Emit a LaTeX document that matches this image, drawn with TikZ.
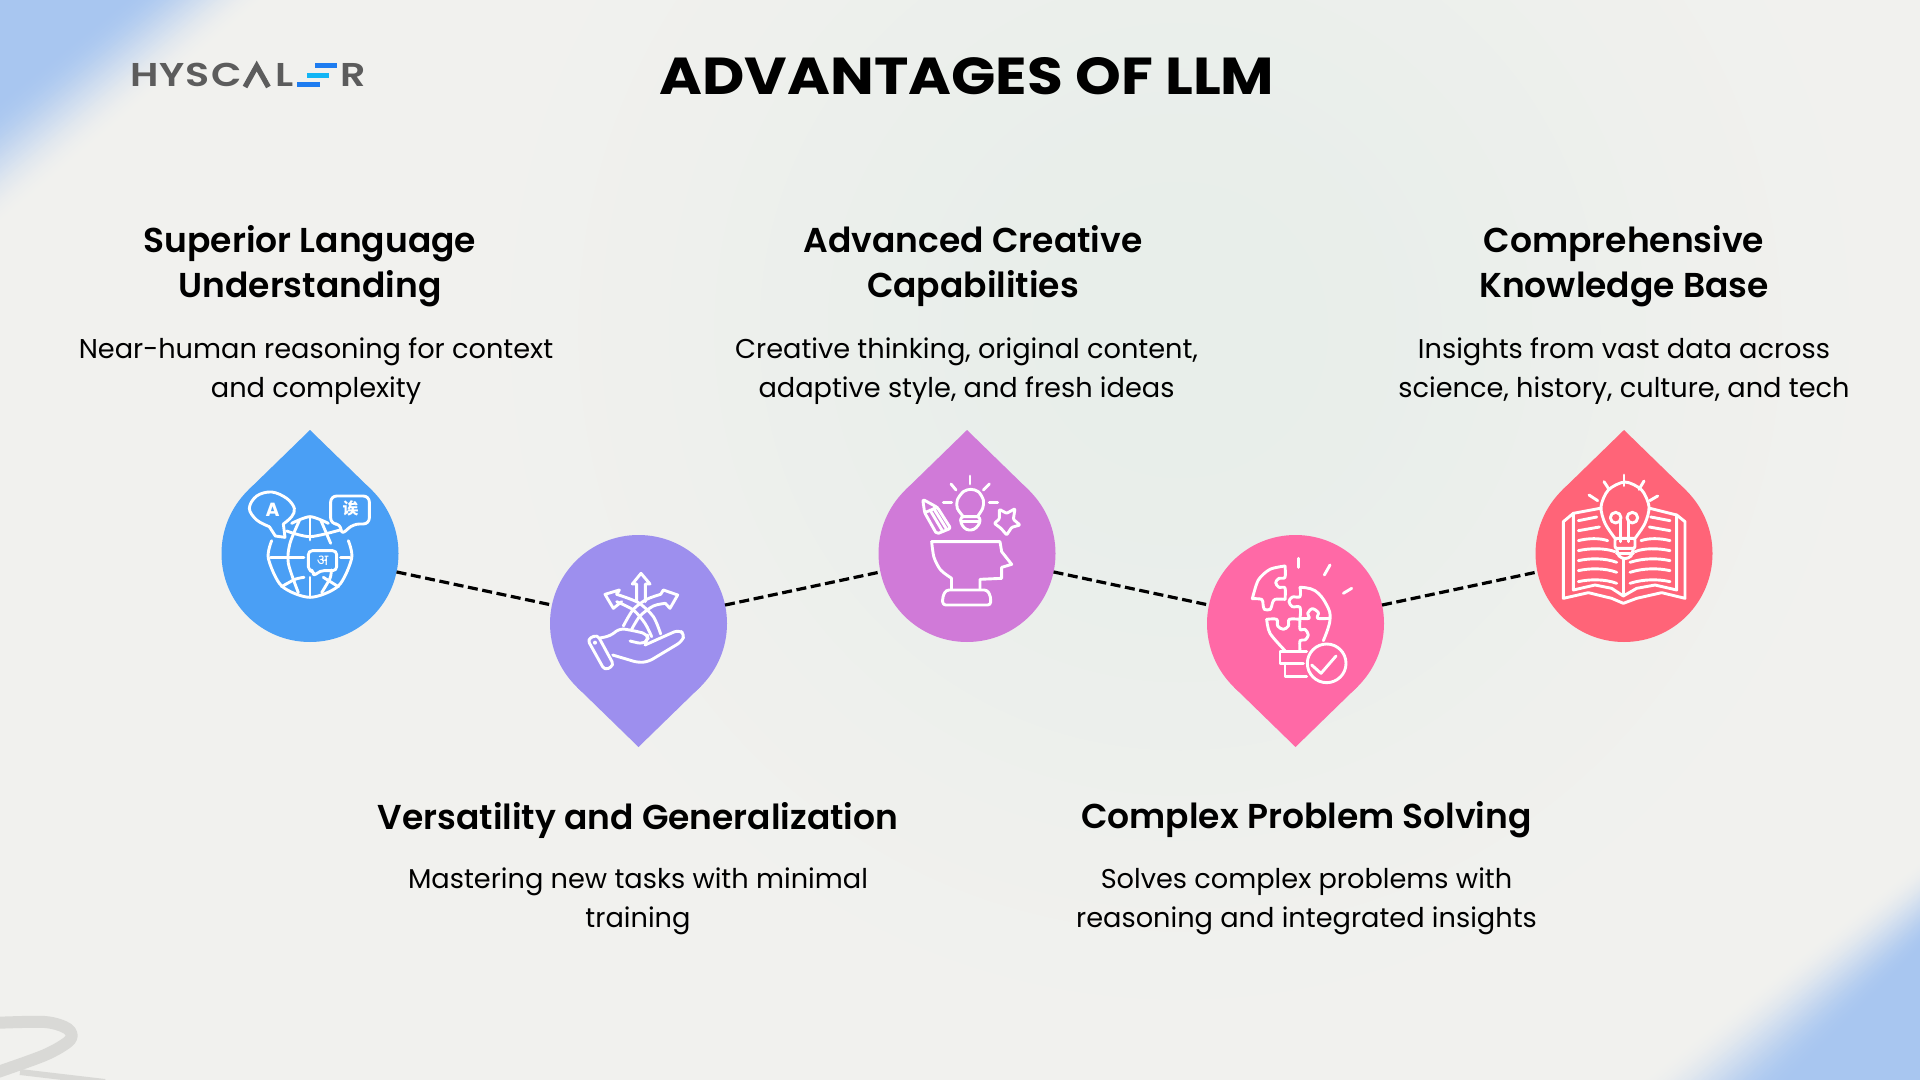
\documentclass[tikz,border=0pt]{standalone}
\usepackage{fontspec}
\setmainfont{Poppins}[BoldFont=Poppins Bold]
\newfontfamily\semib{Poppins SemiBold}
\newfontfamily\logof{Poppins SemiBold}[FakeStretch=1.2]
\newfontfamily\titlef{Poppins Bold}[FakeStretch=1.12]
\newfontfamily\devfont[Script=Devanagari]{Noto Sans}
\newfontfamily\cjkfont{Noto Sans CJK SC}
\definecolor{bgbase}{HTML}{F1F1EE}
\definecolor{bgmid}{HTML}{E8EEEA}
\definecolor{cornerblue}{HTML}{A8C6F0}
\definecolor{dropA}{HTML}{4A9FF5}
\definecolor{dropB}{HTML}{9D8FEE}
\definecolor{dropC}{HTML}{D07AD8}
\definecolor{dropD}{HTML}{FF69A6}
\definecolor{dropE}{HTML}{FF6478}
\definecolor{logogrey}{HTML}{5C5C5C}
\definecolor{logoblue}{HTML}{1E7CF0}
\definecolor{logocyan}{HTML}{12B5F5}
\tikzset{
  x=0.5pt,y=-0.5pt,
  dropnode/.style={circle,inner sep=0pt,outer sep=0pt,minimum size=88.5pt,fill=#1},
  conn/.style={draw=black,line width=1.6pt,dash pattern=on 5pt off 2.3pt},
  ic/.style={draw=white,line width=1.45pt,line cap=round,line join=round},
  heading/.style={font=\semib\fontsize{17.25}{22.8}\selectfont,align=center,text=black,inner sep=0pt},
  bodytext/.style={font=\fontsize{13.6}{19.6}\selectfont,align=center,text=black,inner sep=0pt},
  logoletter/.style={font=\logof\fontsize{16.5}{18}\selectfont,text=logogrey,inner sep=0pt,anchor=base},
}
\begin{document}
\begin{tikzpicture}
\useasboundingbox (0,0) rectangle (1920,1080);
\clip (0,0) rectangle (1920,1080);
% background
\fill[bgbase] (0,0) rectangle (1920,1080);
\foreach \i in {0,...,30}{
  \pgfmathsetmacro{\t}{\i/30}
  \pgfmathsetmacro{\p}{100*\t*\t*(3-2*\t)}
  \pgfmathsetmacro{\rr}{760-680*\t}
  \fill[bgmid!\p!bgbase] (1180,330) circle (\rr);
}
\foreach \i in {0,...,44}{
  \pgfmathsetmacro{\t}{\i/44}
  \pgfmathsetmacro{\p}{100*\t*\t*(3-2*\t)}
  \pgfmathsetmacro{\ax}{265-\t*(265-125)}
  \pgfmathsetmacro{\ay}{225-\t*(225-100)}
  \pgfmathsetmacro{\bx}{1640+\t*(1790-1640)}
  \pgfmathsetmacro{\by}{860+\t*(950-860)}
  \fill[cornerblue!\p!bgbase] (0,0) -- (\ax,0) -- (0,\ay) -- cycle;
  \fill[cornerblue!\p!bgbase] (1920,1080) -- (\bx,1080) -- (1920,\by) -- cycle;
}
% squiggle
\draw[draw=black!10!bgbase,line width=6pt,line cap=round,line join=round] plot[smooth] coordinates {(-8,1023) (45,1022) (68,1029) (70,1040) (45,1055) (-8,1074)};
\draw[draw=black!10!bgbase,line width=3pt] (20,1072) -- (105,1082);
% logo
\foreach \n/\l/\cx in {a/H/145,b/Y/172,c/S/198,d/C/227,e/L/285,f/R/353}
  \node[logoletter] (logo\n) at (\cx,86.7) {\l};
\draw[logogrey,line width=2.6pt,line join=miter] (245,87) -- (256.7,66) -- (268.4,87);
\fill[logoblue] (315,63) rectangle (337,68);
\fill[logocyan] (307,73) rectangle (329,78);
\fill[logoblue] (297,82.5) rectangle (320,87.5);
% title
\node[font=\titlef\fontsize{26}{30}\selectfont,text=black,inner sep=0pt] (title) at (967,75.7) {ADVANTAGES OF LLM};
% drops
\node[dropnode=dropA] (d1) at (310,553.5) {};
\node[dropnode=dropB] (d2) at (638.5,623.5) {};
\node[dropnode=dropC] (d3) at (967,553.5) {};
\node[dropnode=dropD] (d4) at (1295.5,623.5) {};
\node[dropnode=dropE] (d5) at (1624,553.5) {};
\coordinate (t1) at (310,430);
\coordinate (t2) at (638.5,747);
\coordinate (t3) at (967,430);
\coordinate (t4) at (1295.5,747);
\coordinate (t5) at (1624,430);
\fill[dropA] (d1.center) -- (d1.134.2) -- (t1) -- (d1.45.8) -- cycle;
\fill[dropB] (d2.center) -- (d2.-134.2) -- (t2) -- (d2.-45.8) -- cycle;
\fill[dropC] (d3.center) -- (d3.134.2) -- (t3) -- (d3.45.8) -- cycle;
\fill[dropD] (d4.center) -- (d4.-134.2) -- (t4) -- (d4.-45.8) -- cycle;
\fill[dropE] (d5.center) -- (d5.134.2) -- (t5) -- (d5.45.8) -- cycle;
% connectors
\draw[conn] (d1) -- (d2);
\draw[conn] (d2) -- (d3);
\draw[conn] (d3) -- (d4);
\draw[conn] (d4) -- (d5);
% text
\node[heading] (h1) at (310,266) {Superior Language\\Understanding};
\node[bodytext] (b1) at (316,371) {Near-human reasoning for context\\and complexity};
\node[heading] (h3) at (973,266) {Advanced Creative\\Capabilities};
\node[bodytext] (b3) at (966.5,371) {Creative thinking, original content,\\adaptive style, and fresh ideas};
\node[heading] (h5) at (1624,266) {Comprehensive\\Knowledge Base};
\node[bodytext] (b5) at (1624,371) {Insights from vast data across\\science, history, culture, and tech};
\node[heading] (h2) at (638,820) {Versatility and Generalization};
\node[bodytext] (b2) at (638,901) {Mastering new tasks with minimal\\training};
\node[heading] (h4) at (1306.5,820) {Complex Problem Solving};
\node[bodytext] (b4) at (1306.5,901) {Solves complex problems with\\reasoning and integrated insights};
% icon 1: globe
\begin{scope}[shift={(240,480)},scale=1/3]
\draw[ic] plot[smooth,tension=0.6] coordinates {(130,132) (155,110) (163,85) (140,55) (95,36) (50,48) (28,85) (50,120) (88,140)};
\draw[ic] (88,140) -- (106,168) -- (135,172) -- (130,132);
\draw[ic,rounded corners=3pt] (303,165) -- (303,132) -- (272,132) -- (272,48) -- (388,48) -- (388,132) -- (340,132) -- cycle;
\node[font=\bfseries\fontsize{9.5}{10}\selectfont,text=white,inner sep=0pt] (lA) at (98,88) {A};
\node[font=\cjkfont\bfseries\fontsize{8}{9}\selectfont,text=white,inner sep=0pt] (lB) at (332,86) {诶};
\draw[ic] plot[smooth] coordinates {(95,182) (85,235) (125,318) (210,352) (295,318) (335,235) (325,182)};
\draw[ic] plot[smooth] coordinates {(155,130) (210,110) (265,130)};
\draw[ic] plot[smooth] coordinates {(178,122) (150,190) (145,250) (175,338)};
\draw[ic] plot[smooth] coordinates {(243,122) (272,190)};
\draw[ic] plot[smooth] coordinates {(274,270) (270,295) (245,338)};
\draw[ic] (210,112) -- (210,180);
\draw[ic] (210,292) -- (210,350);
\draw[ic] plot[smooth] coordinates {(140,153) (210,170) (300,150)};
\draw[ic] (92,232) -- (192,232);
\draw[ic] (302,232) -- (330,232);
\draw[ic] plot[smooth] coordinates {(125,320) (165,298) (192,292)};
\draw[ic] plot[smooth] coordinates {(250,292) (295,320)};
\draw[ic,rounded corners=2pt] (220,290) -- (222,272) -- (205,272) -- (205,212) -- (290,212) -- (290,272) -- (240,272) -- cycle;
\node[font=\devfont\bfseries\fontsize{7.5}{8}\selectfont,text=white,inner sep=0pt] (lC) at (248,241) {अ};
\end{scope}
% icon 2: hand and arrows
\begin{scope}[shift={(570,560)},scale=1/3]
\draw[ic] (200,125) -- (200,72) -- (187,72) -- (213,40) -- (240,72) -- (226,72) -- (226,125);
\draw[ic] (155,125) -- (130,145) -- (105,103) -- (148,90) -- (140,103);
\draw[ic] (272,103) -- (280,90) -- (323,105) -- (300,145) -- (286,130);
\draw[ic] plot[smooth] coordinates {(140,103) (205,128) (250,170) (272,222)};
\draw[ic] plot[smooth] coordinates {(140,125) (190,150) (225,190) (245,230)};
\draw[ic] plot[smooth] coordinates {(272,103) (230,118) (190,148) (160,198)};
\draw[ic] plot[smooth] coordinates {(286,130) (250,138) (210,168) (185,208)};
\draw[ic,rounded corners=2pt] (52,238) -- (82,224) -- (132,316) -- (104,331) -- cycle;
\fill[white] (75,248) circle (6);
\draw[ic,rounded corners=2.5pt] (90,234) -- (120,228) -- (150,205) -- (190,212) -- (232,222) -- (235,240) -- (218,252) -- (180,243);
\draw[ic,rounded corners=2.5pt] (225,255) -- (325,210) -- (345,222) -- (335,245) -- (235,305) -- (205,308) -- (128,285);
\end{scope}
% icon 3: head
\begin{scope}[shift={(900,470)},scale=1/3]
\draw[ic] (210,18) -- (210,42);
\draw[ic] (153,42) -- (168,60);
\draw[ic] (268,42) -- (250,60);
\draw[ic] (130,98) -- (155,98);
\draw[ic] (268,98) -- (293,98);
\draw[ic] plot[smooth] coordinates {(190,140) (172,115) (172,90) (190,65) (212,58) (235,65) (250,90) (248,115) (232,140)};
\draw[ic,rounded corners=1.5pt] (182,140) -- (240,140) -- (240,160) -- (222,180) -- (198,180) -- (182,160) -- cycle;
\draw[ic] (185,155) -- (237,155);
\draw[ic,rounded corners=1pt] (68,88) -- (112,112) -- (152,175) -- (110,192) -- (74,128) -- cycle;
\draw[ic] (74,128) -- (112,112);
\draw[ic] (90,120) -- (128,184);
\draw[ic] (101,115) -- (140,178);
\draw[ic,rounded corners=0.5pt] (345,116) -- (340,148) -- (360,165) -- (335,172) -- (320,195) -- (303,175) -- (283,160) -- (298,147) -- (298,118) -- (320,130) -- cycle;
\draw[ic] (95,215) -- (300,215) -- (305,245) -- (335,283) -- (305,292) -- (305,325) -- (240,328) -- (240,358);
\draw[ic] plot[smooth] coordinates {(95,215) (102,262) (122,300) (155,325)};
\draw[ic] (155,325) -- (155,358);
\draw[ic,rounded corners=1.5pt] (128,405) -- (128,380) -- (138,360) -- (262,360) -- (272,380) -- (272,405) -- cycle;
\end{scope}
% icon 4: puzzle bulb
\begin{scope}[shift={(1235,550)},scale=1/3]
\draw[ic] (190,25) -- (190,52);
\draw[ic] (285,45) -- (268,75);
\draw[ic] (350,115) -- (325,130);
\draw[ic] plot[smooth,tension=0.5] coordinates {(150,48) (105,58) (70,90) (52,146)};
\draw[ic] plot[smooth,tension=0.55] coordinates {(52,146) (80,148) (84,162) (88,178) (106,178) (112,160) (120,148) (150,148)};
\draw[ic] plot[smooth,tension=0.55] coordinates {(150,148) (150,114) (132,112) (122,98) (132,85) (150,82) (150,48)};
\draw[ic] plot[smooth,tension=0.7] coordinates {(195,112) (240,122) (275,165) (285,210) (265,272)};
\draw[ic] plot[smooth,tension=0.55] coordinates {(195,112) (195,140) (172,141) (162,155) (172,170) (195,172) (195,205)};
\draw[ic] plot[smooth,tension=0.55] coordinates {(195,205) (222,205) (218,190) (232,176) (250,188) (248,205) (283,205)};
\draw[ic] plot[smooth,tension=0.55] coordinates {(195,205) (195,238) (210,238) (220,255) (210,270) (195,272) (195,305)};
\draw[ic] plot[smooth,tension=0.55] coordinates {(95,208) (125,208) (128,228) (145,238) (160,228) (163,208) (195,208)};
\draw[ic] plot[smooth] coordinates {(95,208) (105,250) (150,302)};
\draw[ic] (215,305) -- (135,305) -- (135,340) -- (205,340);
\draw[ic] (150,340) -- (150,380) -- (215,380);
\draw[ic] (275,340) circle (58);
\draw[ic] (230,345) -- (258,370) -- (303,318);
\end{scope}
% icon 5: book
\begin{scope}[shift={(1555,470)},scale=1/3]
\draw[ic] (207,15) -- (207,47);
\draw[ic] (147,35) -- (162,58);
\draw[ic] (267,33) -- (252,58);
\draw[ic] (102,75) -- (128,92);
\draw[ic] (308,78) -- (284,92);
\draw[ic] plot[smooth] coordinates {(180,205) (150,160) (138,110) (160,60) (210,36) (260,60) (282,110) (270,160) (240,205)};
\draw[ic,rounded corners=1pt] (180,205) -- (180,235) -- (240,235) -- (240,205) -- cycle;
\draw[ic] (185,250) -- (235,250);
\draw[ic] plot[smooth] coordinates {(185,235) (192,258) (210,266) (228,258) (235,235)};
\draw[ic] (182,143) circle (16);
\draw[ic] (232,143) circle (16);
\draw[ic] (197,150) -- (197,215);
\draw[ic] (220,150) -- (220,215);
\draw[ic] (205,266) -- (205,378);
\draw[ic] (135,115) -- (55,130) -- (25,155) -- (25,385) -- (100,368) -- (170,385) -- (205,400) -- (245,385) -- (320,368) -- (390,385) -- (390,155) -- (365,135) -- (285,115);
\draw[ic] (55,130) -- (55,360) -- (120,345) -- (170,355) -- (205,378) -- (245,355) -- (300,345) -- (365,360) -- (365,135);
\draw[ic] (70,152) -- (125,141);
\draw[ic] (70,182) -- (133,171);
\draw[ic] (70,212) .. controls (100,204) and (135,204) .. (158,212);
\draw[ic] (70,242) .. controls (105,234) and (150,234) .. (180,245);
\draw[ic] (70,272) .. controls (105,264) and (150,264) .. (185,277);
\draw[ic] (70,302) .. controls (105,294) and (150,294) .. (185,307);
\draw[ic] (70,335) .. controls (105,327) and (150,327) .. (185,340);
\draw[ic] (345,152) -- (287,141);
\draw[ic] (345,182) -- (283,171);
\draw[ic] (345,212) .. controls (315,204) and (280,204) .. (258,212);
\draw[ic] (345,242) .. controls (310,234) and (265,234) .. (240,245);
\draw[ic] (345,272) .. controls (310,264) and (265,264) .. (225,277);
\draw[ic] (345,302) .. controls (310,294) and (265,294) .. (225,307);
\draw[ic] (345,335) .. controls (310,327) and (265,327) .. (225,340);
\end{scope}
\end{tikzpicture}
\end{document}
